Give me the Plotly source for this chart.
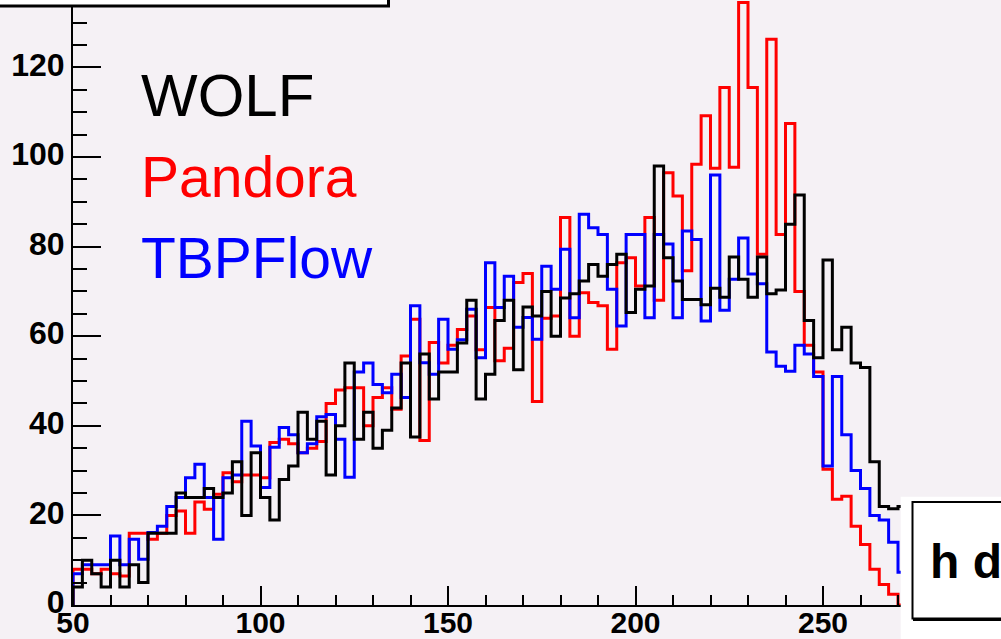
import numpy as np
import plotly.graph_objects as go

# ---------------- data (histogram bins of width 2.5 starting at 50) ----------------
bin_low = 50.0
bin_width = 2.5

wolf = [4, 10, 7, 4, 10, 4, 9, 5, 16, 16,
        16, 25, 24, 24, 26, 24, 25, 32, 20, 34,
        24, 19, 28, 31, 43, 37, 41, 29, 40, 54,
        37, 43, 35, 39, 44, 54, 37.5, 56, 46, 52,
        52, 58.5, 68, 46, 51.5, 63.5, 68, 52.5, 66.5, 64.5,
        70, 60, 68.5, 69.5, 72.3, 76, 73.4, 76, 78.3, 65.3,
        70.5, 71.2, 98, 77.5, 72.3, 68.2, 68.2, 67, 70.7, 68.7,
        77.7, 72.7, 68.7, 77.7, 69.5, 70.3, 85, 91.5, 63.5, 55.2,
        77, 57, 62, 54, 53, 32, 22, 21.5, 22]

pandora = [8, 8, 7, 8, 7, 6.5, 16, 16, 14.7, 16,
           20, 21, 16, 23, 21.4, 24.7, 29.5, 27.5, 29, 29,
           28.4, 36.3, 37, 36, 34, 35, 36.5, 45, 48, 48.5,
           48.5, 40, 46.3, 48.5, 43.7, 55.6, 63.8, 36.7, 58.6, 54,
           58, 61.5, 64.5, 57, 66.4, 54.5, 57.3, 72, 74, 45.4,
           64, 64.5, 86.5, 60, 69.7, 67.5, 66.8, 57.1, 76.4, 77.5,
           71.2, 86.5, 68, 96.5, 91.3, 74.6, 98.4, 109.2, 97.5, 115.5,
           97.7, 134.5, 115.5, 78.3, 126.3, 82.7, 107.5, 70, 58, 52,
           30.3, 23.6, 24.3, 17.6, 13.5, 8, 4.6, 2.4, 0]

tbpflow = [7, 9, 9, 9, 15.4, 9, 14.7, 10.2, 16.2, 17.6,
           22, 24, 28.4, 31.4, 24, 14.7, 28.4, 29, 41, 35.5,
           26.2, 35.2, 39.6, 38, 34, 36, 42, 42.5, 37, 28.5,
           52, 54, 49.2, 47.4, 51.5, 46.3, 66.8, 54.1, 51.5, 63.8,
           57.1, 59.2, 66, 55.2, 76.4, 66.4, 73.4, 62, 64.2, 59.3,
           75.6, 70.5, 79.4, 64.1, 87.2, 84.2, 82.7, 70.5, 62.3, 82.7,
           82.7, 64.1, 82.7, 80.6, 64.1, 83.5, 81.6, 63.4, 96, 65.8,
           72.7, 81.9, 73.9, 71.7, 56.5, 53.3, 52.2, 58, 56, 51,
           31, 51, 38, 30, 26, 20, 19, 14, 7.3]

series_names = ["WOLF", "Pandora", "TBPFlow"]
series_colors = {"WOLF": "#000000", "Pandora": "#FF0000", "TBPFlow": "#0000FF"}
series_values = {"WOLF": wolf, "Pandora": pandora, "TBPFlow": tbpflow}

x_tick_step = 50
y_tick_step = 20

# ---------------- geometry ----------------
W, H = 1001, 639
L, R, T, B = 73, 0, 0, 34
pw, ph = W - L - R, H - T - B
x_scale = 3.75   # px per unit
y_scale = 4.48   # px per unit
x_range = [bin_low, bin_low + pw / x_scale]
y_range = [0, ph / y_scale]

bg = "#F5F1F5"


def px_x(px):
    return (px - L) / pw


def px_y(py):
    return (H - B - py) / ph


fig = go.Figure()

for name in ["Pandora", "TBPFlow", "WOLF"]:
    vals = series_values[name]
    edges = bin_low + bin_width * np.arange(len(vals) + 1)
    xs = [edges[0]] + list(edges)
    ys = [0] + list(vals) + [vals[-1]]
    fig.add_trace(go.Scatter(
        x=xs, y=ys, mode="lines", line_shape="hv",
        line=dict(color=series_colors[name], width=3),
        showlegend=False, hoverinfo="skip"))

ytickfont = dict(family="Liberation Sans, Arial, sans-serif", size=32,
                 color="black", weight="bold")
xtickfont = dict(family="Liberation Sans, Arial, sans-serif", size=30,
                 color="black", weight="bold")

fig.update_xaxes(
    range=x_range, showline=True, linecolor="black", linewidth=2,
    ticks="inside", ticklen=19, tickwidth=2, tickcolor="black",
    tick0=bin_low, dtick=x_tick_step, showgrid=False, zeroline=False,
    tickfont=xtickfont, ticklabelstandoff=-10, automargin=False,
    minor=dict(ticks="inside", ticklen=10, tickwidth=2, tickcolor="black",
               dtick=10, tick0=bin_low, showgrid=False))

fig.update_yaxes(
    range=y_range, showline=True, linecolor="black", linewidth=2,
    ticks="inside", ticklen=28, tickwidth=2, tickcolor="black",
    tick0=0, dtick=y_tick_step, showgrid=False, zeroline=False,
    tickfont=ytickfont, ticklabelstandoff=0, ticklabelshift=-3,
    automargin=False,
    minor=dict(ticks="inside", ticklen=14, tickwidth=2, tickcolor="black",
               dtick=5, tick0=0, showgrid=False))

shapes = [
    # title pave (top-left, mostly cut off)
    dict(type="rect", xref="paper", yref="paper",
         x0=px_x(-10), x1=px_x(388.5), y0=px_y(6), y1=px_y(-10),
         fillcolor="white", line=dict(color="black", width=3), layer="above"),
    # stats box background
    dict(type="rect", xref="paper", yref="paper",
         x0=px_x(900.7), x1=px_x(1010), y0=px_y(645), y1=px_y(496.7),
         fillcolor="white", line=dict(width=0), layer="above"),
    # stats box frame
    dict(type="rect", xref="paper", yref="paper",
         x0=px_x(912.5), x1=px_x(1010), y0=px_y(618.5), y1=px_y(502),
         fillcolor="white", line=dict(color="black", width=2), layer="above"),
    dict(type="line", xref="paper", yref="paper",
         x0=px_x(913), x1=px_x(1010), y0=px_y(619.5), y1=px_y(619.5),
         line=dict(color="black", width=3), layer="above"),
]

legend_font = "Liberation Sans, Arial, sans-serif"
label_specs = [("WOLF", 95, 60), ("Pandora", 177, 57), ("TBPFlow", 258, 57)]
annotations = []
for name, cy, size in label_specs:
    annotations.append(dict(
        text=name, xref="paper", yref="paper", x=px_x(139), y=px_y(cy),
        xanchor="left", yanchor="middle", showarrow=False,
        font=dict(family=legend_font, size=size, color=series_colors[name])))

annotations.append(dict(
    text="h d", xref="paper", yref="paper", x=px_x(928), y=px_y(561),
    xanchor="left", yanchor="middle", showarrow=False,
    font=dict(family="Liberation Sans, Arial, sans-serif", size=48,
              color="black", weight="bold")))

fig.update_layout(
    width=W, height=H, margin=dict(l=L, r=R, t=T, b=B, pad=0, autoexpand=False),
    plot_bgcolor=bg, paper_bgcolor=bg,
    shapes=shapes, annotations=annotations, showlegend=False)

fig.write_html("out.html")
